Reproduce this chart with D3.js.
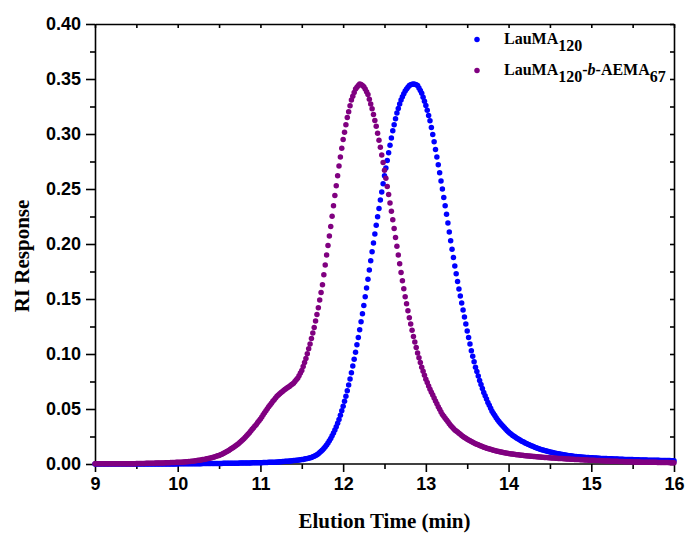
<!DOCTYPE html>
<html><head><meta charset="utf-8">
<script src="https://cdn.jsdelivr.net/npm/d3@7/dist/d3.min.js"></script>
<style>body{margin:0;background:#fff}svg{display:block}</style>
</head><body><svg id="chart" width="685" height="533"></svg>
<script>
// ---- data ----
const xTicks = [9, 10, 11, 12, 13, 14, 15, 16];
const xMinorTicks = [9.5, 10.5, 11.5, 12.5, 13.5, 14.5, 15.5];
const yTicks = [0, 0.05, 0.10, 0.15, 0.20, 0.25, 0.30, 0.35, 0.40];
const yMinorTicks = [0.025, 0.075, 0.125, 0.175, 0.225, 0.275, 0.325, 0.375];
const seriesNames = ["LauMA120", "LauMA120-b-AEMA67"];
const timeStart = 9;          // min
const timeStep = 1 / 60;      // one reading per second
// RI response, LauMA120
const lauma = [
0,0,0,0,0,0,0,0,0,0,0,0,
0,0,0,0,0,0,0,0,0,0,0,0,
0,0,0,0,0,0,.0001,.0001,.0001,.0001,.0001,.0001,
.0001,.0001,.0001,.0001,.0001,.0001,.0001,.0001,.0001,.0001,.0001,.0001,
.0001,.0001,.0001,.0001,.0001,.0001,.0001,.0001,.0001,.0001,.0001,.0001,
.0002,.0002,.0002,.0002,.0002,.0002,.0002,.0002,.0002,.0003,.0003,.0003,
.0003,.0003,.0003,.0003,.0003,.0003,.0004,.0004,.0004,.0004,.0004,.0004,
.0004,.0004,.0004,.0005,.0005,.0005,.0005,.0005,.0005,.0006,.0006,.0006,
.0006,.0006,.0006,.0007,.0007,.0007,.0007,.0007,.0007,.0008,.0008,.0008,
.0009,.0009,.0009,.0010,.0010,.0010,.0011,.0011,.0011,.0011,.0011,.0011,
.0012,.0012,.0013,.0013,.0014,.0014,.0015,.0015,.0016,.0016,.0017,.0017,
.0018,.0019,.0020,.0021,.0022,.0023,.0024,.0025,.0026,.0027,.0028,.0030,
.0031,.0032,.0034,.0035,.0037,.0038,.0040,.0042,.0045,.0047,.0050,.0053,
.0056,.0060,.0065,.0070,.0077,.0085,.0093,.0104,.0115,.0127,.0141,.0156,
.0172,.0191,.0211,.0232,.0256,.0281,.0308,.0339,.0371,.0405,.0444,.0484,
.0525,.0571,.0617,.0665,.0718,.0773,.0830,.0891,.0953,.1015,.1083,.1151,
.1220,.1293,.1366,.1440,.1520,.1600,.1680,.1763,.1847,.1930,.2010,.2090,
.2170,.2247,.2323,.2400,.2473,.2547,.2620,.2690,.2760,.2830,.2897,.2963,
.3030,.3085,.3138,.3190,.3232,.3272,.3310,.3338,.3365,.3390,.3408,.3425,
.3440,.3447,.3452,.3455,.3453,.3448,.3440,.3418,.3395,.3370,.3335,.3298,
.3260,.3215,.3168,.3120,.3058,.2995,.2930,.2860,.2790,.2720,.2647,.2573,
.2500,.2423,.2347,.2270,.2190,.2110,.2030,.1953,.1877,.1800,.1730,.1660,
.1590,.1527,.1463,.1400,.1337,.1273,.1210,.1150,.1090,.1030,.0980,.0930,
.0880,.0840,.0800,.0760,.0723,.0687,.0650,.0620,.0590,.0560,.0533,.0507,
.0480,.0460,.0440,.0420,.0403,.0387,.0370,.0357,.0343,.0330,.0317,.0303,
.0290,.0280,.0270,.0260,.0252,.0243,.0235,.0227,.0220,.0212,.0205,.0199,
.0192,.0186,.0180,.0174,.0169,.0163,.0158,.0153,.0148,.0143,.0139,.0134,
.0130,.0127,.0123,.0120,.0117,.0113,.0110,.0107,.0104,.0101,.0098,.0096,
.0093,.0091,.0088,.0086,.0084,.0081,.0079,.0077,.0076,.0074,.0072,.0071,
.0069,.0068,.0066,.0065,.0064,.0063,.0062,.0061,.0060,.0059,.0058,.0057,
.0056,.0056,.0055,.0054,.0054,.0053,.0052,.0051,.0051,.0050,.0049,.0049,
.0048,.0048,.0047,.0047,.0046,.0046,.0045,.0045,.0044,.0044,.0043,.0043,
.0042,.0042,.0041,.0041,.0040,.0040,.0040,.0039,.0039,.0038,.0038,.0037,
.0037,.0037,.0036,.0036,.0036,.0035,.0035,.0035,.0034,.0034,.0034,.0033,
.0033,.0033,.0032,.0032,.0032,.0031,.0031,.0031,.0031,.0031,.0030,.0030,
.0030];
// RI response, LauMA120-b-AEMA67
const laumaAema = [
.0002,.0002,.0002,.0002,.0002,.0002,.0002,.0002,.0002,.0002,.0002,.0002,
.0002,.0002,.0002,.0003,.0003,.0003,.0003,.0003,.0003,.0003,.0003,.0003,
.0003,.0003,.0003,.0003,.0003,.0003,.0004,.0004,.0004,.0005,.0005,.0005,
.0005,.0006,.0006,.0006,.0006,.0007,.0007,.0007,.0008,.0008,.0008,.0009,
.0009,.0010,.0010,.0011,.0011,.0012,.0012,.0013,.0013,.0014,.0014,.0015,
.0015,.0016,.0016,.0017,.0018,.0019,.0020,.0021,.0022,.0023,.0024,.0026,
.0028,.0029,.0031,.0033,.0035,.0037,.0040,.0042,.0044,.0047,.0050,.0052,
.0055,.0058,.0062,.0066,.0070,.0074,.0078,.0084,.0089,.0095,.0102,.0108,
.0115,.0123,.0132,.0140,.0148,.0157,.0165,.0175,.0185,.0195,.0207,.0218,
.0230,.0243,.0257,.0270,.0285,.0300,.0315,.0330,.0345,.0360,.0377,.0393,
.0410,.0428,.0447,.0465,.0483,.0502,.0520,.0537,.0553,.0570,.0585,.0600,
.0615,.0627,.0638,.0650,.0660,.0670,.0680,.0688,.0697,.0705,.0715,.0725,
.0735,.0750,.0765,.0780,.0803,.0827,.0850,.0887,.0923,.0960,.1003,.1047,
.1090,.1140,.1190,.1240,.1300,.1360,.1420,.1490,.1560,.1630,.1720,.1810,
.1900,.1987,.2073,.2160,.2253,.2347,.2440,.2530,.2620,.2710,.2790,.2870,
.2950,.3017,.3083,.3150,.3203,.3257,.3310,.3343,.3377,.3410,.3425,.3440,
.3455,.3450,.3442,.3430,.3408,.3385,.3360,.3317,.3273,.3230,.3177,.3123,
.3070,.3007,.2943,.2880,.2810,.2740,.2670,.2597,.2523,.2450,.2373,.2297,
.2220,.2140,.2060,.1980,.1900,.1820,.1740,.1667,.1593,.1520,.1457,.1393,
.1330,.1273,.1217,.1160,.1110,.1060,.1010,.0967,.0923,.0880,.0843,.0807,
.0770,.0740,.0710,.0680,.0653,.0627,.0600,.0573,.0547,.0520,.0497,.0473,
.0450,.0433,.0417,.0400,.0383,.0367,.0350,.0337,.0323,.0310,.0300,.0290,
.0280,.0270,.0260,.0250,.0242,.0233,.0225,.0218,.0211,.0204,.0198,.0191,
.0185,.0179,.0174,.0168,.0163,.0158,.0153,.0149,.0144,.0140,.0136,.0133,
.0129,.0126,.0122,.0119,.0116,.0113,.0110,.0108,.0105,.0103,.0101,.0098,
.0096,.0094,.0092,.0090,.0088,.0087,.0085,.0083,.0082,.0080,.0079,.0077,
.0076,.0075,.0073,.0072,.0071,.0070,.0069,.0068,.0066,.0065,.0064,.0063,
.0062,.0061,.0060,.0059,.0058,.0057,.0056,.0055,.0055,.0054,.0053,.0052,
.0051,.0050,.0050,.0049,.0048,.0047,.0046,.0045,.0045,.0044,.0043,.0043,
.0042,.0041,.0041,.0040,.0039,.0039,.0038,.0037,.0037,.0036,.0035,.0035,
.0034,.0033,.0033,.0032,.0032,.0031,.0031,.0030,.0030,.0029,.0028,.0028,
.0027,.0027,.0026,.0026,.0025,.0025,.0024,.0024,.0023,.0023,.0023,.0022,
.0021,.0021,.0021,.0020,.0020,.0020,.0019,.0019,.0019,.0018,.0018,.0018,
.0017,.0017,.0017,.0016,.0016,.0016,.0016,.0015,.0015,.0015,.0015,.0015,
.0014,.0014,.0014,.0014,.0013,.0013,.0013,.0013,.0013,.0012,.0012,.0012,
.0012];
const seriesColors = ["#0000ff", "#800080"];

if (lauma.length !== 421 || laumaAema.length !== 421) {
  throw new Error("length mismatch " + lauma.length + " " + laumaAema.length);
}

// ---- chart ----
const svg = d3.select("#chart");
const L = 95, R = 674, T = 24, B = 464;
const x = d3.scaleLinear().domain([9, 16]).range([L, R]);
const y = d3.scaleLinear().domain([0, 0.4]).range([B, T]);
const tickFont = "'Liberation Sans', Arial, sans-serif";
const serif = "'Liberation Serif', 'Times New Roman', serif";

function styleAxis(g) {
  g.selectAll("path, line").attr("stroke", "#000").attr("stroke-width", 1.6);
  g.selectAll("text").attr("font-family", tickFont).attr("font-weight", "bold")
    .attr("font-size", 18).attr("fill", "#000");
}

// bottom axis
svg.append("g").attr("transform", `translate(0,${B})`)
  .call(d3.axisBottom(x).tickValues(xTicks).tickSize(8).tickSizeOuter(0).tickPadding(5).tickFormat(d3.format("d")))
  .call(styleAxis).call(g => g.select(".domain").attr("d", `M${L},0H${R}`));
svg.append("g").attr("transform", `translate(0,${B})`)
  .call(d3.axisBottom(x).tickValues(xMinorTicks).tickSize(5).tickFormat(""))
  .call(styleAxis).call(g => g.select(".domain").remove());
// top axis (inward ticks)
svg.append("g").attr("transform", `translate(0,${T})`)
  .call(d3.axisBottom(x).tickValues(xTicks.concat(xMinorTicks)).tickSize(4).tickSizeOuter(0).tickFormat(""))
  .call(styleAxis);
// left axis
svg.append("g").attr("transform", `translate(${L},0)`)
  .call(d3.axisLeft(y).tickValues(yTicks).tickSize(9).tickSizeOuter(0).tickPadding(5).tickFormat(d3.format(".2f")))
  .call(styleAxis);
svg.append("g").attr("transform", `translate(${L},0)`)
  .call(d3.axisLeft(y).tickValues(yMinorTicks).tickSize(5).tickFormat(""))
  .call(styleAxis).call(g => g.select(".domain").remove());
// right axis (inward ticks)
svg.append("g").attr("transform", `translate(${R},0)`)
  .call(d3.axisLeft(y).tickValues(yTicks.concat(yMinorTicks)).tickSize(4).tickSizeOuter(0).tickFormat(""))
  .call(styleAxis);

// data points
const series = [lauma, laumaAema];
series.forEach((vals, si) => {
  svg.append("g").selectAll("circle").data(vals).join("circle")
    .attr("cx", (d, i) => x(timeStart + i * timeStep))
    .attr("cy", d => y(d))
    .attr("r", 2.75)
    .attr("fill", seriesColors[si]);
});

// axis titles
svg.append("text").attr("x", (L + R) / 2).attr("y", 528).attr("text-anchor", "middle")
  .attr("font-family", serif).attr("font-weight", "bold").attr("font-size", 21)
  .attr("fill", "#000").text("Elution Time (min)");
svg.append("text").attr("transform", `translate(29,${(T + B) / 2 + 12}) rotate(-90)`)
  .attr("text-anchor", "middle")
  .attr("font-family", serif).attr("font-weight", "bold").attr("font-size", 21)
  .attr("fill", "#000").text("RI Response");

// legend
const legend = svg.append("g");
const legendRows = [
  { y: 39.5, parts: [["LauMA", 0, ""], ["120", 7, ""]] },
  { y: 70.5, parts: [["LauMA", 0, ""], ["120", 7, ""], ["-", -7, ""], ["b", 0, "italic"], ["-AEMA", 0, ""], ["67", 7, ""]] }
];
legendRows.forEach((row, ri) => {
  legend.append("circle").attr("cx", x(timeStart) + 382).attr("cy", row.y).attr("r", 2.75)
    .attr("fill", seriesColors[ri]);
  const t = legend.append("text").attr("x", 504).attr("y", row.y + 4.5)
    .attr("font-family", serif).attr("font-weight", "bold").attr("font-size", 16).attr("fill", "#000");
  row.parts.forEach(([s, dy, st]) => {
    const ts = t.append("tspan").attr("dy", dy).text(s);
    if (st) ts.attr("font-style", st);
  });
});
</script></body></html>
